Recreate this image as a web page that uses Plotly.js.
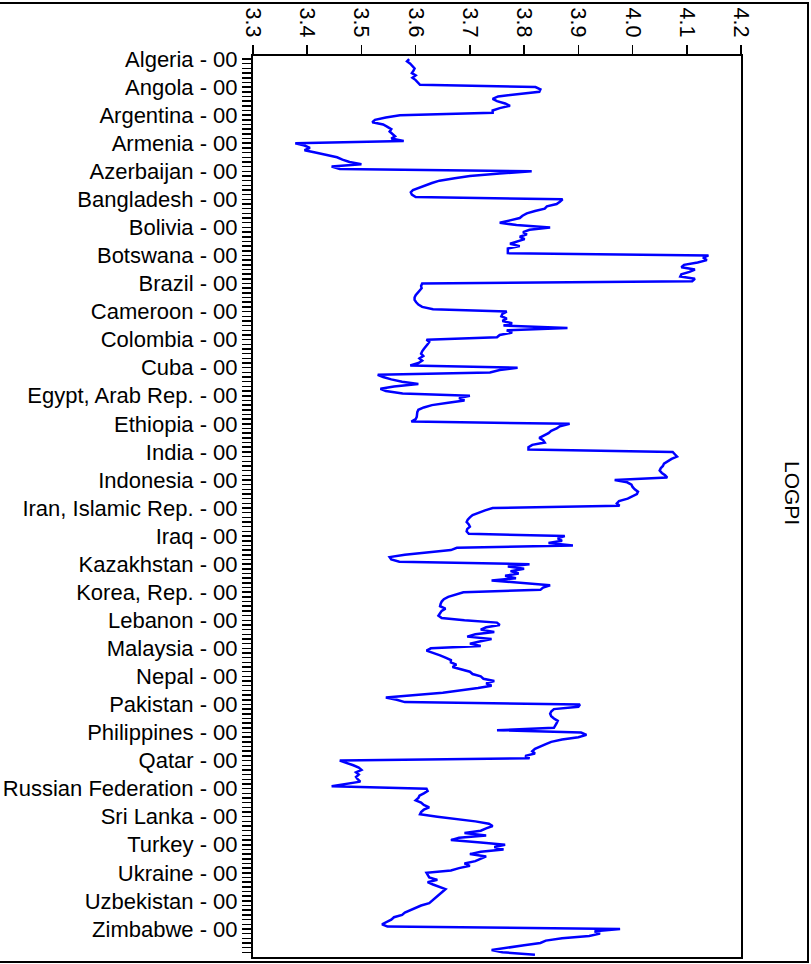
<!DOCTYPE html>
<html>
<head>
<meta charset="utf-8">
<script src="https://cdn.plot.ly/plotly-3.0.1.min.js"></script>
<style>
  html, body { margin: 0; padding: 0; background: #fff; }
  #chart { width: 811px; height: 964px; }
</style>
</head>
<body>
<div id="chart"></div>
<script>
const countries = ["Algeria","Angola","Argentina","Armenia","Azerbaijan","Bangladesh","Bolivia","Botswana","Brazil","Cameroon","Colombia","Cuba","Egypt, Arab Rep.","Ethiopia","India","Indonesia","Iran, Islamic Rep.","Iraq","Kazakhstan","Korea, Rep.","Lebanon","Malaysia","Nepal","Pakistan","Philippines","Qatar","Russian Federation","Sri Lanka","Turkey","Ukraine","Uzbekistan","Zimbabwe"];
const yearLabel = "00";
const xTicks = [3.3, 3.4, 3.5, 3.6, 3.7, 3.8, 3.9, 4.0, 4.1, 4.2];

const algeria    = [3.588, 3.584, 3.590, 3.595, 3.598, 3.596, 3.593, 3.600, 3.594, 3.600, 3.604, 3.608];
const angola     = [3.821, 3.830, 3.828, 3.790, 3.752, 3.742, 3.750, 3.765, 3.774, 3.755, 3.742, 3.742];
const argentina  = [3.571, 3.545, 3.525, 3.520, 3.540, 3.548, 3.555, 3.552, 3.557, 3.562, 3.555, 3.578];
const armenia    = [3.378, 3.395, 3.405, 3.395, 3.415, 3.435, 3.455, 3.465, 3.478, 3.500, 3.445, 3.460];
const azerbaijan = [3.814, 3.755, 3.700, 3.672, 3.644, 3.630, 3.617, 3.604, 3.595, 3.591, 3.593, 3.600];
const bangladesh = [3.871, 3.866, 3.860, 3.842, 3.838, 3.820, 3.805, 3.797, 3.792, 3.774, 3.755, 3.786];
const bolivia    = [3.848, 3.810, 3.798, 3.805, 3.792, 3.801, 3.788, 3.774, 3.792, 3.770, 3.770, 3.770];
const botswana   = [4.140, 4.130, 4.137, 4.120, 4.095, 4.090, 4.115, 4.105, 4.090, 4.088, 4.115, 4.110];
const brazil     = [3.612, 3.610, 3.611, 3.607, 3.604, 3.600, 3.598, 3.598, 3.601, 3.605, 3.612, 3.632];
const cameroon   = [3.768, 3.760, 3.758, 3.768, 3.760, 3.778, 3.762, 3.880, 3.768, 3.778, 3.755, 3.750];
const colombia   = [3.620, 3.625, 3.622, 3.618, 3.615, 3.612, 3.610, 3.614, 3.607, 3.612, 3.605, 3.590];
const cuba       = [3.788, 3.755, 3.737, 3.530, 3.540, 3.555, 3.575, 3.605, 3.560, 3.535, 3.545, 3.576];
const egypt      = [3.700, 3.680, 3.690, 3.660, 3.630, 3.615, 3.605, 3.603, 3.603, 3.602, 3.600, 3.592];
const ethiopia   = [3.884, 3.866, 3.860, 3.850, 3.845, 3.835, 3.828, 3.835, 3.838, 3.815, 3.808, 3.808];
const india      = [4.074, 4.078, 4.082, 4.072, 4.066, 4.058, 4.056, 4.052, 4.050, 4.054, 4.060, 4.064];
const indonesia  = [3.967, 3.990, 3.998, 4.000, 4.004, 4.010, 4.008, 4.000, 3.991, 3.975, 3.971, 3.976];
const iran       = [3.742, 3.728, 3.718, 3.705, 3.700, 3.696, 3.694, 3.698, 3.700, 3.695, 3.694, 3.698];
const iraq       = [3.875, 3.862, 3.870, 3.845, 3.890, 3.676, 3.665, 3.620, 3.580, 3.552, 3.555, 3.570];
const kazakhstan = [3.810, 3.770, 3.800, 3.775, 3.790, 3.765, 3.785, 3.740, 3.790, 3.848, 3.835, 3.830];
const korea      = [3.688, 3.672, 3.660, 3.652, 3.648, 3.646, 3.645, 3.655, 3.648, 3.645, 3.642, 3.648];
const lebanon    = [3.690, 3.750, 3.755, 3.730, 3.720, 3.745, 3.710, 3.695, 3.740, 3.720, 3.700, 3.720];
const malaysia   = [3.628, 3.620, 3.635, 3.645, 3.655, 3.665, 3.665, 3.675, 3.668, 3.685, 3.700, 3.705];
const nepal      = [3.720, 3.725, 3.745, 3.730, 3.740, 3.715, 3.685, 3.650, 3.600, 3.545, 3.565, 3.580];
const pakistan   = [3.903, 3.900, 3.855, 3.850, 3.848, 3.850, 3.855, 3.862, 3.860, 3.858, 3.855, 3.750];
const philippines= [3.905, 3.915, 3.900, 3.870, 3.850, 3.840, 3.830, 3.820, 3.815, 3.820, 3.802, 3.810];
const qatar      = [3.460, 3.475, 3.485, 3.495, 3.500, 3.490, 3.495, 3.490, 3.493, 3.498, 3.470, 3.445];
const russia     = [3.620, 3.622, 3.615, 3.607, 3.605, 3.600, 3.610, 3.615, 3.625, 3.615, 3.610, 3.608];
const srilanka   = [3.640, 3.680, 3.710, 3.735, 3.742, 3.730, 3.720, 3.690, 3.730, 3.680, 3.665, 3.720];
const turkey     = [3.765, 3.745, 3.762, 3.720, 3.700, 3.730, 3.720, 3.710, 3.690, 3.700, 3.680, 3.665];
const ukraine    = [3.620, 3.622, 3.625, 3.640, 3.622, 3.632, 3.645, 3.655, 3.650, 3.645, 3.640, 3.635];
const uzbekistan = [3.632, 3.625, 3.610, 3.600, 3.590, 3.580, 3.575, 3.560, 3.555, 3.545, 3.538, 3.548];
const zimbabwe   = [3.977, 3.930, 3.940, 3.920, 3.870, 3.840, 3.830, 3.800, 3.770, 3.740, 3.760, 3.820];

const series = [algeria, angola, argentina, armenia, azerbaijan, bangladesh, bolivia, botswana, brazil, cameroon, colombia, cuba, egypt, ethiopia, india, indonesia, iran, iraq, kazakhstan, korea, lebanon, malaysia, nepal, pakistan, philippines, qatar, russia, srilanka, turkey, ukraine, uzbekistan, zimbabwe];

const perCountry = 12;
const xs = [], ys = [];
series.forEach((vals, k) => {
  vals.forEach((v, j) => { xs.push(v); ys.push(k * perCountry + j); });
});
const n = series.length * perCountry;

const tickvals = [], ticktext = [];
for (let i = 0; i < n; i += 2) {
  tickvals.push(i);
  ticktext.push(i % perCountry === 0 ? countries[i / perCountry] + " - " + yearLabel : "");
}

const font = "Liberation Sans, Arial, Helvetica, sans-serif";

const trace = {
  x: xs, y: ys, type: "scatter", mode: "lines",
  line: { color: "#0000ff", width: 2.5 },
  hoverinfo: "skip"
};

const layout = {
  width: 811, height: 964,
  margin: { l: 253, r: 70, t: 56, b: 7, pad: 0 },
  paper_bgcolor: "#fff", plot_bgcolor: "#fff",
  showlegend: false,
  font: { family: font, size: 22, color: "#000" },
  xaxis: {
    side: "top", range: [3.3, 4.2], tickvals: xTicks,
    ticktext: xTicks.map(v => v.toFixed(1)),
    tickangle: 90, ticks: "outside", ticklen: 9, tickwidth: 1.5, tickcolor: "#000",
    showline: true, linecolor: "#000", linewidth: 2, mirror: true,
    showgrid: false, zeroline: false,
    tickfont: { family: font, size: 21.5, color: "#000" }
  },
  yaxis: {
    range: [n, -1.3], tickmode: "array", tickvals: tickvals, ticktext: ticktext,
    ticks: "outside", ticklen: 9, tickwidth: 1.5, tickcolor: "#000",
    showline: true, linecolor: "#000", linewidth: 2, mirror: true,
    showgrid: false, zeroline: false,
    tickfont: { family: font, size: 22, color: "#000" }
  },
  annotations: [{
    text: "LOGPI", xref: "paper", yref: "paper",
    x: (793 - 253) / 488, y: (957 - 493) / 901,
    xanchor: "center", yanchor: "middle",
    showarrow: false, textangle: 90,
    font: { family: font, size: 21, color: "#000" }
  }],
  shapes: [{
    type: "rect", xref: "paper", yref: "paper",
    x0: (-6 - 253) / 488, x1: (808 - 253) / 488,
    y0: (957 - 962) / 901, y1: (957 - 3) / 901,
    line: { color: "#000", width: 2 }, fillcolor: "rgba(0,0,0,0)"
  }]
};

Plotly.newPlot("chart", [trace], layout, { displayModeBar: false, staticPlot: true });
</script>
</body>
</html>
